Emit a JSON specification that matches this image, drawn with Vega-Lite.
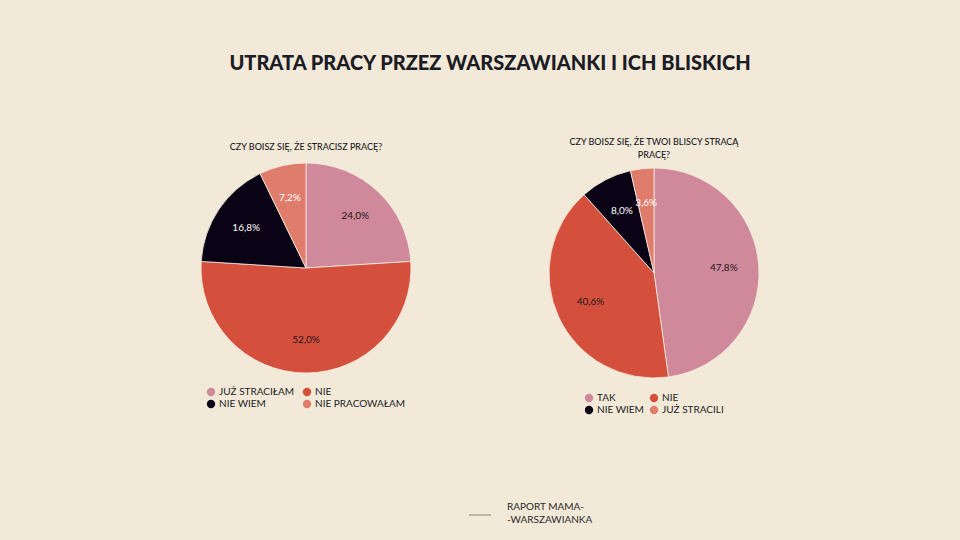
{
  "$schema": "https://vega.github.io/schema/vega-lite/v6.json",
  "background": "#f2e9d8",
  "padding": {"left": 199, "top": 54, "right": 201, "bottom": 15},
  "title": {
    "text": "UTRATA PRACY PRZEZ WARSZAWIANKI I ICH BLISKICH",
    "fontSize": 20,
    "fontWeight": 900,
    "font": "Lato",
    "color": "#1c1c24",
    "anchor": "middle",
    "dx": 10,
    "offset": 64
  },
  "datasets": {
    "self": [
      {"idx": 1, "answer": "JUŻ STRACIŁAM", "pct": 24.0},
      {"idx": 2, "answer": "NIE", "pct": 52.0},
      {"idx": 3, "answer": "NIE WIEM", "pct": 16.8},
      {"idx": 4, "answer": "NIE PRACOWAŁAM", "pct": 7.2}
    ],
    "relatives": [
      {"idx": 1, "answer": "TAK", "pct": 47.8},
      {"idx": 2, "answer": "NIE", "pct": 40.6},
      {"idx": 3, "answer": "NIE WIEM", "pct": 8.0},
      {"idx": 4, "answer": "JUŻ STRACILI", "pct": 3.6}
    ],
    "footer": [
      {"t": "RAPORT MAMA-\n-WARSZAWIANKA"}
    ]
  },
  "vconcat": [
    {
      "hconcat": [
        {
          "width": 210,
          "height": 210,
          "title": {"text": "CZY BOISZ SIĘ, ŻE STRACISZ PRACĘ?", "offset": 9},
          "data": {"name": "self"},
          "transform": [
            {"calculate": "replace(format(datum.pct, '.1f'), '.', ',') + '%'", "as": "label"}
          ],
          "encoding": {
            "theta": {"field": "pct", "type": "quantitative", "stack": true},
            "order": {"field": "idx", "type": "quantitative"}
          },
          "layer": [
            {
              "mark": {"type": "arc", "stroke": "#f3ecdf", "strokeWidth": 0.8},
              "encoding": {
                "color": {
                  "field": "answer",
                  "type": "nominal",
                  "sort": null,
                  "scale": {
                    "domain": ["JUŻ STRACIŁAM", "NIE", "NIE WIEM", "NIE PRACOWAŁAM"],
                    "range": ["#d0899b", "#d5503c", "#0a0316", "#df7c6b"]
                  },
                  "legend": {"title": null, "orient": "bottom", "direction": "horizontal", "columns": 2, "offset": 14, "columnPadding": 7}
                }
              }
            },
            {
              "mark": {"type": "text", "radius": 72, "fontSize": 10, "font": "Lato"},
              "encoding": {
                "text": {"field": "label", "type": "nominal"},
                "color": {"condition": {"test": "datum.idx >= 3", "value": "#ffffff"}, "value": "#1a1620"}
              }
            }
          ]
        },
        {
          "width": 210,
          "height": 220,
          "title": {"text": ["CZY BOISZ SIĘ, ŻE TWOI BLISCY STRACĄ", "PRACĘ?"], "offset": 3},
          "data": {"name": "relatives"},
          "transform": [
            {"calculate": "replace(format(datum.pct, '.1f'), '.', ',') + '%'", "as": "label"}
          ],
          "encoding": {
            "theta": {"field": "pct", "type": "quantitative", "stack": true},
            "order": {"field": "idx", "type": "quantitative"}
          },
          "layer": [
            {
              "mark": {"type": "arc", "stroke": "#f3ecdf", "strokeWidth": 0.8},
              "encoding": {
                "color": {
                  "field": "answer",
                  "type": "nominal",
                  "sort": null,
                  "scale": {
                    "domain": ["TAK", "NIE", "NIE WIEM", "JUŻ STRACILI"],
                    "range": ["#d0899b", "#d5503c", "#0a0316", "#df7c6b"]
                  },
                  "legend": {"title": null, "orient": "bottom", "direction": "horizontal", "columns": 2, "offset": 10}
                }
              }
            },
            {
              "mark": {"type": "text", "radius": 70, "fontSize": 10, "font": "Lato"},
              "encoding": {
                "text": {"field": "label", "type": "nominal"},
                "color": {"condition": {"test": "datum.idx >= 3", "value": "#ffffff"}, "value": "#1a1620"}
              }
            }
          ]
        }
      ],
      "spacing": 134,
      "resolve": {
        "scale": {"color": "independent", "theta": "independent"},
        "legend": {"color": "independent"}
      }
    },
    {
      "width": 400,
      "height": 30,
      "data": {"name": "footer"},
      "layer": [
        {
          "mark": {"type": "rule", "stroke": "#8c8474", "strokeWidth": 1},
          "encoding": {
            "x": {"datum": 268, "type": "quantitative", "scale": {"domain": [0, 400]}, "axis": null},
            "x2": {"datum": 290},
            "y": {"datum": 23, "type": "quantitative", "scale": {"domain": [30, 0]}, "axis": null}
          }
        },
        {
          "mark": {"type": "text", "align": "left", "baseline": "middle", "lineBreak": "\n", "lineHeight": 13, "fontSize": 10, "font": "Lato", "color": "#2a2a2a"},
          "encoding": {
            "x": {"datum": 306, "type": "quantitative"},
            "y": {"datum": 15, "type": "quantitative"},
            "text": {"field": "t", "type": "nominal"}
          }
        }
      ]
    }
  ],
  "spacing": 77,
  "config": {
    "font": "Lato",
    "view": {"stroke": null},
    "title": {"fontSize": 9, "fontWeight": 500, "color": "#1c1c24", "offset": 11, "lineHeight": 13, "font": "Lato"},
    "legend": {
      "labelFontSize": 10,
      "labelFont": "Lato",
      "labelColor": "#1c1c24",
      "symbolType": "circle",
      "symbolSize": 70,
      "symbolStrokeWidth": 0,
      "columnPadding": 5,
      "rowPadding": 2,
      "labelOffset": 3,
      "layout": {"bottom": {"anchor": "middle"}}
    }
  }
}
